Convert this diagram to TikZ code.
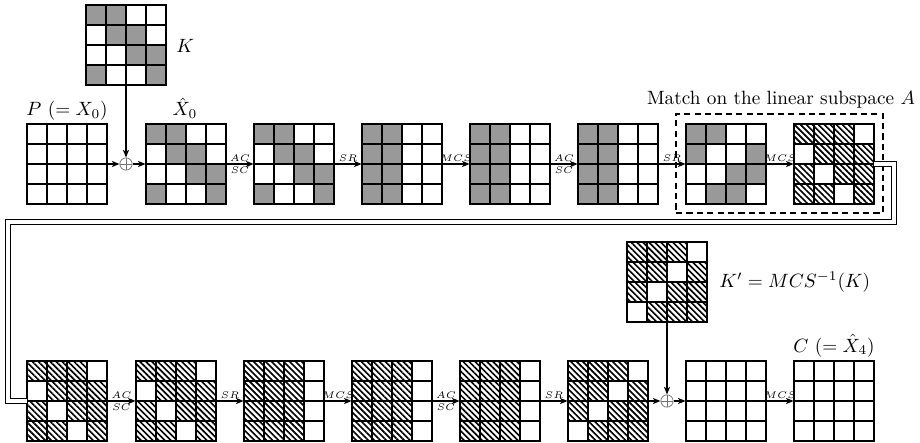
\documentclass[tikz,border=0pt]{standalone}
\usetikzlibrary{arrows.meta,patterns.meta,calc}
\newcommand{\sgrid}[4]{%
  \foreach \c [count=\i from 0] in {#4} {
    \pgfmathtruncatemacro{\col}{mod(\i,4)}
    \pgfmathtruncatemacro{\row}{div(\i,4)}
    \path[cell\c] ({#2+20*\col},{#3+20*\row}) rectangle ++(20,20);
  }
  \node[gridnode] (#1) at ({#2+40},{#3+40}) {};
}
\begin{document}
\begin{tikzpicture}[x=0.52pt,y=-0.52pt,
  cellw/.style={draw=black,line width=0.6pt},
  cellg/.style={draw=black,line width=0.6pt,fill=black!40},
  cellh/.style={draw=black,line width=0.6pt,pattern={Lines[angle=-45,distance=2.2pt,line width=0.85pt]}},
  gridnode/.style={rectangle,inner sep=0pt,minimum size=41.6pt},
  arr/.style={line width=0.6pt,-{Stealth[length=4pt,width=3.2pt,inset=1.1pt]}},
  lab/.style={font=\tiny,inner sep=1.2pt},
  title/.style={inner sep=0.5pt},
  xorc/.style={circle,draw=black!55,line width=0.4pt,minimum size=6.4pt,inner sep=0pt,
    path picture={\draw[black!55,line width=0.4pt] (path picture bounding box.north) -- (path picture bounding box.south) (path picture bounding box.west) -- (path picture bounding box.east);}},
  dblline/.style={double=white,double distance=2.4pt,line width=0.55pt},
  dashbox/.style={draw,line width=0.6pt,dash pattern=on 3.2pt off 2.2pt,inner sep=0pt,minimum width=107.6pt,minimum height=51.5pt}
]
\useasboundingbox (0,0) rectangle (920,443);

% ---- top row ----
\sgrid{K}{86}{5}{g,g,w,w, w,g,g,w, w,w,g,g, g,w,w,g}
\sgrid{P}{27}{124}{w,w,w,w, w,w,w,w, w,w,w,w, w,w,w,w}
\sgrid{xa}{146}{124}{g,g,w,w, w,g,g,w, w,w,g,g, g,w,w,g}
\sgrid{ta}{254}{124}{g,g,w,w, w,g,g,w, w,w,g,g, g,w,w,g}
\sgrid{tb}{362}{124}{g,g,w,w, g,g,w,w, g,g,w,w, g,g,w,w}
\sgrid{tc}{470}{124}{g,g,w,w, g,g,w,w, g,g,w,w, g,g,w,w}
\sgrid{td}{578}{124}{g,g,w,w, g,g,w,w, g,g,w,w, g,g,w,w}
\sgrid{te}{686}{124}{g,g,w,w, g,w,w,g, w,w,g,g, w,g,g,w}
\sgrid{tf}{794}{124}{h,h,h,w, w,h,h,h, h,w,h,h, h,h,w,h}

\node[xorc] (xo1) at (126,164) {};

\node[title,anchor=base west] (klab) at (175,53) {$K$};
\node[title,anchor=base] (plab) at (67,116) {$P\ (=X_0)$};
\node[title,anchor=base] (xalab) at (185,116) {$\hat{X}_0$};
\node[title,anchor=base] (match) at (781,105) {Match on the linear subspace $A$};

\draw[arr] (K.south) -- (xo1.north);
\draw[arr] (P.east) -- (xo1.west);
\draw[arr] (xo1.east) -- (xa.west);
\draw[arr] (xa.east) -- node[lab,above]{$AC$} node[lab,below]{$SC$} (ta.west);
\draw[arr] (ta.east) -- node[lab,above]{$SR$} (tb.west);
\draw[arr] (tb.east) -- node[lab,above]{$MCS$} (tc.west);
\draw[arr] (tc.east) -- node[lab,above]{$AC$} node[lab,below]{$SC$} (td.west);
\draw[arr] (td.east) -- node[lab,above]{$SR$} (te.west);
\draw[arr] (te.east) -- node[lab,above]{$MCS$} (tf.west);

\node[dashbox] (box) at (779.5,163.5) {};

% ---- bottom row ----
\sgrid{ba}{27}{361}{h,h,h,w, w,h,h,h, h,w,h,h, h,h,w,h}
\sgrid{bb}{136}{361}{h,h,h,w, w,h,h,h, h,w,h,h, h,h,w,h}
\sgrid{bc}{244}{361}{h,h,h,w, h,h,h,w, h,h,h,w, h,h,h,w}
\sgrid{bd}{352}{361}{h,h,h,w, h,h,h,w, h,h,h,w, h,h,h,w}
\sgrid{be}{460}{361}{h,h,h,w, h,h,h,w, h,h,h,w, h,h,h,w}
\sgrid{bf}{568}{361}{h,h,h,w, h,h,w,h, h,w,h,h, w,h,h,h}
\sgrid{Kp}{627}{242}{h,h,h,w, h,h,w,h, h,w,h,h, w,h,h,h}
\sgrid{bg}{686}{361}{w,w,w,w, w,w,w,w, w,w,w,w, w,w,w,w}
\sgrid{bh}{794}{361}{w,w,w,w, w,w,w,w, w,w,w,w, w,w,w,w}

\node[xorc] (xo2) at (667,401) {};

\node[title,anchor=base west] (kplab) at (718,287) {$K' = MCS^{-1}(K)$};
\node[title,anchor=base] (clab) at (834,352) {$C\ (=\hat{X}_4)$};

\draw[arr] (Kp.south) -- (xo2.north);
\draw[arr] (ba.east) -- node[lab,above]{$AC$} node[lab,below]{$SC$} (bb.west);
\draw[arr] (bb.east) -- node[lab,above]{$SR$} (bc.west);
\draw[arr] (bc.east) -- node[lab,above]{$MCS$} (bd.west);
\draw[arr] (bd.east) -- node[lab,above]{$AC$} node[lab,below]{$SC$} (be.west);
\draw[arr] (be.east) -- node[lab,above]{$SR$} (bf.west);
\draw[arr] (bf.east) -- (xo2.west);
\draw[arr] (xo2.east) -- (bg.west);
\draw[arr] (bg.east) -- node[lab,above]{$MCS$} (bh.west);

% ---- wrap-around double line ----
\coordinate (w1) at (894,222);
\coordinate (w2) at (8,222);
\draw[dblline] (tf.east) -| (w1) -- (w2) |- (ba.west);
\end{tikzpicture}
\end{document}
